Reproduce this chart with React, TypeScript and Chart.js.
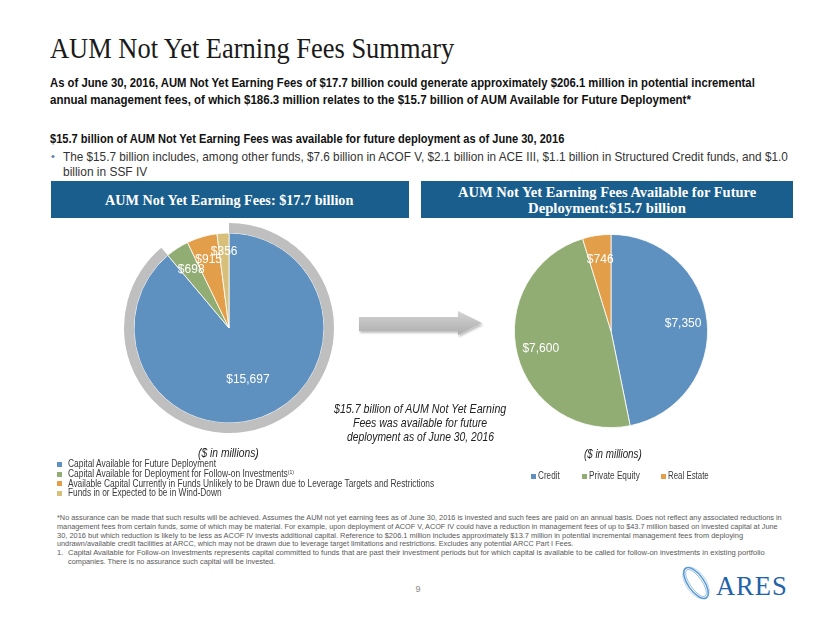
import React, { useEffect, useLayoutEffect, useRef } from "react";
import { Chart, registerables } from "chart.js";

Chart.register(...registerables);

const SANS = "'Liberation Sans Narrow', 'Arial Narrow', 'Liberation Sans', 'Noto Sans', sans-serif";
const SERIF = "'Liberation Serif', 'DejaVu Serif', serif";

// ---- data ----
const leftCategories = [
  "Capital Available for Future Deployment",
  "Capital Available for Deployment for Follow-on Investments",
  "Available Capital Currently in Funds Unlikely to be Drawn due to Leverage Targets and Restrictions",
  "Funds in or Expected to be in Wind-Down",
];
const leftValues = [15697, 698, 915, 356];
const leftColors = ["#5E91BF", "#92AD74", "#E29E48", "#D8C07A"];

const rightCategories = ["Credit", "Private Equity", "Real Estate"];
const rightValues = [7350, 7600, 746];
const rightColors = ["#5E91BF", "#92AD74", "#E29E48"];

const ringColor = "#BFBFBF";
const boxColor = "#1A5E8D";

// slice value labels drawn at arc positions
const sliceLabels = {
  id: "sliceLabels",
  afterDatasetsDraw(chart: any) {
    const ctx = chart.ctx;
    chart.data.datasets.forEach((ds: any, di: number) => {
      if (!ds.showLabels) return;
      const meta = chart.getDatasetMeta(di);
      const total = ds.data.reduce((a: number, b: number) => a + b, 0);
      meta.data.forEach((arc: any, i: number) => {
        const p = arc.getProps(["x", "y", "startAngle", "endAngle", "outerRadius"], true);
        const mid = (p.startAngle + p.endAngle) / 2;
        const share = ds.data[i] / total;
        const f = share > 0.6 ? 0.58 : share < 0.03 ? 0.8 : share < 0.045 ? 0.73 : 0.75;
        const px = p.x + Math.cos(mid) * p.outerRadius * f;
        const py = p.y + Math.sin(mid) * p.outerRadius * f;
        ctx.save();
        ctx.font = `12px ${SANS}`;
        ctx.fillStyle = "#FFFFFF";
        ctx.textAlign = "center";
        ctx.textBaseline = "middle";
        ctx.fillText("$" + ds.data[i].toLocaleString("en-US"), px, py);
        ctx.restore();
      });
    });
  },
};

type TProps = {
  x: number;
  y: number;
  w?: number;
  align?: "left" | "center";
  style?: React.CSSProperties;
  children: React.ReactNode;
};

function T({ x, y, w, align = "left", style, children }: TProps) {
  const ref = useRef<HTMLDivElement>(null);
  useLayoutEffect(() => {
    const el = ref.current;
    if (!el || !w) return;
    const nat = el.offsetWidth;
    const s = w / nat;
    el.style.left = (align === "center" ? x - w / 2 : x) + "px";
    el.style.transform = `translateY(-50%) scaleX(${s})`;
  }, [x, y, w, align]);
  const base: React.CSSProperties = {
    position: "absolute",
    top: y,
    left: x,
    whiteSpace: "nowrap",
    lineHeight: 1.2,
    transformOrigin: "left center",
    transform: align === "center" ? "translate(-50%, -50%)" : "translateY(-50%)",
    ...style,
  };
  return (
    <div ref={ref} style={base}>
      {children}
    </div>
  );
}

export default function App() {
  const leftRef = useRef<HTMLCanvasElement>(null);
  const rightRef = useRef<HTMLCanvasElement>(null);

  useEffect(() => {
    const ringData = [leftValues[0], leftValues.slice(1).reduce((a, b) => a + b, 0)];
    const common: any = {
      responsive: false,
      animation: false,
      events: [],
      layout: { padding: 0 },
      plugins: { legend: { display: false }, tooltip: { enabled: false } },
    };
    const c1 = new Chart(leftRef.current!, {
      type: "pie",
      data: {
        labels: leftCategories,
        datasets: [
          {
            data: ringData,
            backgroundColor: [ringColor, "rgba(0,0,0,0)"],
            borderWidth: 0,
            weight: 10,
          } as any,
          {
            data: leftValues,
            backgroundColor: leftColors,
            borderWidth: 0.8,
            borderColor: "#FFFFFF",
            weight: 95,
            showLabels: true,
          } as any,
        ],
      },
      options: common,
      plugins: [sliceLabels as any],
    });
    const c2 = new Chart(rightRef.current!, {
      type: "pie",
      data: {
        labels: rightCategories,
        datasets: [
          {
            data: rightValues,
            backgroundColor: rightColors,
            borderWidth: 0.8,
            borderColor: "#FFFFFF",
            showLabels: true,
          } as any,
        ],
      },
      options: common,
      plugins: [sliceLabels as any],
    });
    return () => {
      c1.destroy();
      c2.destroy();
    };
  }, []);

  const body: React.CSSProperties = { fontFamily: SANS, color: "#262626" };
  const foot: React.CSSProperties = { fontFamily: SANS, fontSize: 7.5, color: "#595959" };
  const legendText: React.CSSProperties = { fontFamily: SANS, fontSize: 10, color: "#3A3A3A" };
  const leftLegendY = [464, 474, 483.5, 493];
  const leftLegendW = [148, 226, 366, 154];
  const rightLegendX = [531, 582, 661];
  const rightLegendW = [22, 51, 41];

  return (
    <div
      style={{
        position: "absolute",
        left: 0,
        top: 0,
        width: 830,
        height: 623,
        background: "#FFFFFF",
        overflow: "hidden",
      }}
    >
      {/* title */}
      <T x={50} y={48} w={404} style={{ fontFamily: SERIF, fontSize: 30, color: "#1A1A1A" }}>
        AUM Not Yet Earning Fees Summary
      </T>
      <T x={50} y={83} w={705} style={{ ...body, fontSize: 13.5, fontWeight: 700, color: "#111" }}>
        As of June 30, 2016, AUM Not Yet Earning Fees of $17.7 billion could generate approximately $206.1 million in potential incremental
      </T>
      <T x={50} y={100} w={641} style={{ ...body, fontSize: 13.5, fontWeight: 700, color: "#111" }}>
        annual management fees, of which $186.3 million relates to the $15.7 billion of AUM Available for Future Deployment*
      </T>
      <T x={50} y={139} w={514} style={{ ...body, fontSize: 13.5, fontWeight: 700, color: "#111" }}>
        $15.7 billion of AUM Not Yet Earning Fees was available for future deployment as of June 30, 2016
      </T>
      <T x={51} y={157} style={{ ...body, fontSize: 11, color: "#5E7FA8" }}>
        •
      </T>
      <T x={63} y={157} w={725} style={{ ...body, fontSize: 13.5, color: "#333" }}>
        The $15.7 billion includes, among other funds, $7.6 billion in ACOF V, $2.1 billion in ACE III, $1.1 billion in Structured Credit funds, and $1.0
      </T>
      <T x={63} y={172} w={84} style={{ ...body, fontSize: 13.5, color: "#333" }}>
        billion in SSF IV
      </T>

      {/* header boxes */}
      <div style={{ position: "absolute", left: 51, top: 181, width: 358, height: 37, background: boxColor }} />
      <div style={{ position: "absolute", left: 421, top: 181, width: 372, height: 37, background: boxColor }} />
      <T x={229} y={200} w={248} align="center" style={{ fontFamily: SERIF, fontSize: 15, fontWeight: 700, color: "#FFFFFF" }}>
        AUM Not Yet Earning Fees: $17.7 billion
      </T>
      <T x={607} y={192} w={298} align="center" style={{ fontFamily: SERIF, fontSize: 15, fontWeight: 700, color: "#FFFFFF" }}>
        AUM Not Yet Earning Fees Available for Future
      </T>
      <T x={607} y={208} w={158} align="center" style={{ fontFamily: SERIF, fontSize: 15, fontWeight: 700, color: "#FFFFFF" }}>
        Deployment:$15.7 billion
      </T>

      {/* charts */}
      <canvas
        ref={leftRef}
        width={210}
        height={210}
        style={{ position: "absolute", left: 124, top: 223, width: 210, height: 210 }}
      />
      <canvas
        ref={rightRef}
        width={194}
        height={194}
        style={{ position: "absolute", left: 514, top: 234, width: 194, height: 194 }}
      />

      {/* arrow */}
      <svg style={{ position: "absolute", left: 350, top: 300 }} width={140} height={45}>
        <defs>
          <linearGradient id="ag" x1="0" y1="0" x2="0" y2="1">
            <stop offset="0" stopColor="#D4D4D4" />
            <stop offset="1" stopColor="#ADADAD" />
          </linearGradient>
          <filter id="sh" x="-10%" y="-30%" width="130%" height="170%">
            <feDropShadow dx="1" dy="2" stdDeviation="1.2" floodColor="#000" floodOpacity="0.25" />
          </filter>
        </defs>
        <polygon
          points="9,17 108,17 108,11 132,23 108,35 108,31 9,31"
          fill="url(#ag)"
          filter="url(#sh)"
        />
      </svg>

      {/* center italic note */}
      <T x={420} y={409} w={172} align="center" style={{ ...body, fontSize: 13, fontStyle: "italic", color: "#222" }}>
        $15.7 billion of AUM Not Yet Earning
      </T>
      <T x={420} y={423} w={134} align="center" style={{ ...body, fontSize: 13, fontStyle: "italic", color: "#222" }}>
        Fees was available for future
      </T>
      <T x={420} y={437} w={147} align="center" style={{ ...body, fontSize: 13, fontStyle: "italic", color: "#222" }}>
        deployment as of June 30, 2016
      </T>

      {/* units */}
      <T x={228} y={453} w={61} align="center" style={{ ...body, fontSize: 12, fontStyle: "italic", color: "#222" }}>
        ($ in millions)
      </T>
      <T x={613} y={454} w={58} align="center" style={{ ...body, fontSize: 12, fontStyle: "italic", color: "#222" }}>
        ($ in millions)
      </T>

      {/* left legend */}
      {leftCategories.map((c, i) => (
        <React.Fragment key={c}>
          <div
            style={{
              position: "absolute",
              left: 57,
              top: leftLegendY[i] - 2.5,
              width: 5,
              height: 5,
              background: leftColors[i],
            }}
          />
          <T x={68} y={leftLegendY[i]} w={leftLegendW[i]} style={legendText}>
            {c}
            {i === 1 ? <sup style={{ fontSize: 6, verticalAlign: "3px" }}>(1)</sup> : null}
          </T>
        </React.Fragment>
      ))}

      {/* right legend */}
      {rightCategories.map((c, i) => (
        <React.Fragment key={c}>
          <div
            style={{
              position: "absolute",
              left: rightLegendX[i],
              top: 476 - 2.5,
              width: 5,
              height: 5,
              background: rightColors[i],
            }}
          />
          <T x={rightLegendX[i] + 7} y={476} w={rightLegendW[i]} style={legendText}>
            {c}
          </T>
        </React.Fragment>
      ))}

      {/* footnotes */}
      <T x={57} y={517} w={725} style={foot}>
        *No assurance can be made that such results will be achieved. Assumes the AUM not yet earning fees as of June 30, 2016 is invested and such fees are paid on an annual basis. Does not reflect any associated reductions in
      </T>
      <T x={57} y={526} w={721} style={foot}>
        management fees from certain funds, some of which may be material. For example, upon deployment of ACOF V, ACOF IV could have a reduction in management fees of up to $43.7 million based on invested capital at June
      </T>
      <T x={57} y={534.5} w={686} style={foot}>
        30, 2016 but which reduction is likely to be less as ACOF IV invests additional capital. Reference to $206.1 million includes approximately $13.7 million in potential incremental management fees from deploying
      </T>
      <T x={57} y={543} w={516} style={foot}>
        undrawn/available credit facilities at ARCC, which may not be drawn due to leverage target limitations and restrictions. Excludes any potential ARCC Part I Fees.
      </T>
      <T x={57} y={552} style={foot}>
        1.
      </T>
      <T x={67.7} y={552} w={697} style={foot}>
        Capital Available for Follow-on Investments represents capital committed to funds that are past their investment periods but for which capital is available to be called for follow-on investments in existing portfolio
      </T>
      <T x={67.7} y={561} w={207} style={foot}>
        companies. There is no assurance such capital will be invested.
      </T>

      {/* page number */}
      <T x={418} y={589} align="center" style={{ ...body, fontSize: 9, color: "#888" }}>
        9
      </T>

      {/* logo */}
      <svg style={{ position: "absolute", left: 677, top: 562 }} width={40} height={42}>
        <g transform="translate(19,21) rotate(-35)" fill="none" stroke="#5B9BD5">
          <ellipse rx="8" ry="18" strokeWidth="1.6" />
          <ellipse rx="6" ry="16" strokeWidth="0.8" opacity="0.7" />
          <ellipse rx="10" ry="18" strokeWidth="0.6" opacity="0.6" />
        </g>
      </svg>
      <T x={716} y={586} w={72} style={{ fontFamily: SERIF, fontSize: 28, color: "#1F63A8", letterSpacing: 1 }}>
        ARES
      </T>
    </div>
  );
}
